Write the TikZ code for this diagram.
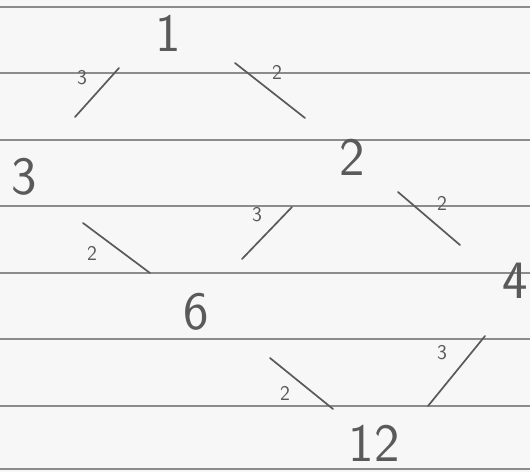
\documentclass[tikz,border=0pt]{standalone}
\usepackage{fontspec}
\usetikzlibrary{calc}
\definecolor{pencil}{HTML}{5A5A5A}
\definecolor{ruling}{HTML}{8C8C8C}
\definecolor{paper}{HTML}{F7F7F7}
\tikzset{
  num/.style={inner sep=0pt,text=pencil,font=\sffamily\fontsize{54}{58}\selectfont},
  fac/.style={inner sep=0pt,text=pencil,font=\sffamily\fontsize{21}{24}\selectfont},
  edge/.style={pencil,line width=1.7pt,line cap=round},
  ruleline/.style={ruling,line width=1.2pt}
}
\begin{document}
\begin{tikzpicture}[x=10pt,y=-10pt]
\fill[paper] (0,0) rectangle (53,47.2);
\useasboundingbox (0,0) rectangle (53,47.2);
\foreach \y in {0.7,7.3,14,20.6,27.3,33.9,40.6,46.9}
  \draw[ruleline] (0,\y)--(53,\y);
% divisors of 12
\node[num] (one) at (16.8,3.3) {1};
\node[num] (three) at (2.4,17.7) {3};
\node[num] (two) at (35.2,15.7) {2};
\node[num] (six) at (19.6,31.2) {6};
\node[num] (four) at (51.5,28.1) {4};
\node[num] (twelve) at (37.4,44.3) {12};
% edges, with the prime on each
\draw[edge] ($(one)+(-4.9,3.5)$)--($(three)+(5.1,-6)$);
\node[fac] (p13) at (8.2,7.8) {3};
\draw[edge] ($(one)+(6.7,3)$)--($(two)+(-4.7,-3.9)$);
\node[fac] (p12) at (27.7,7.2) {2};
\draw[edge] ($(three)+(5.9,4.6)$)--($(six)+(-4.6,-3.9)$);
\node[fac] (p36) at (9.2,25.3) {2};
\draw[edge] ($(two)+(-6,5)$)--($(six)+(4.6,-5.3)$);
\node[fac] (p26) at (25.7,21.5) {3};
\draw[edge] ($(two)+(4.6,3.5)$)--($(four)+(-5.5,-3.6)$);
\node[fac] (p24) at (44.2,20.3) {2};
\draw[edge] ($(six)+(7.4,4.6)$)--($(twelve)+(-4.1,-3.4)$);
\node[fac] (p612) at (28.5,39.3) {2};
\draw[edge] ($(four)+(-3,5.5)$)--($(twelve)+(5.4,-3.7)$);
\node[fac] (p412) at (44.2,35.3) {3};
\end{tikzpicture}
\end{document}
